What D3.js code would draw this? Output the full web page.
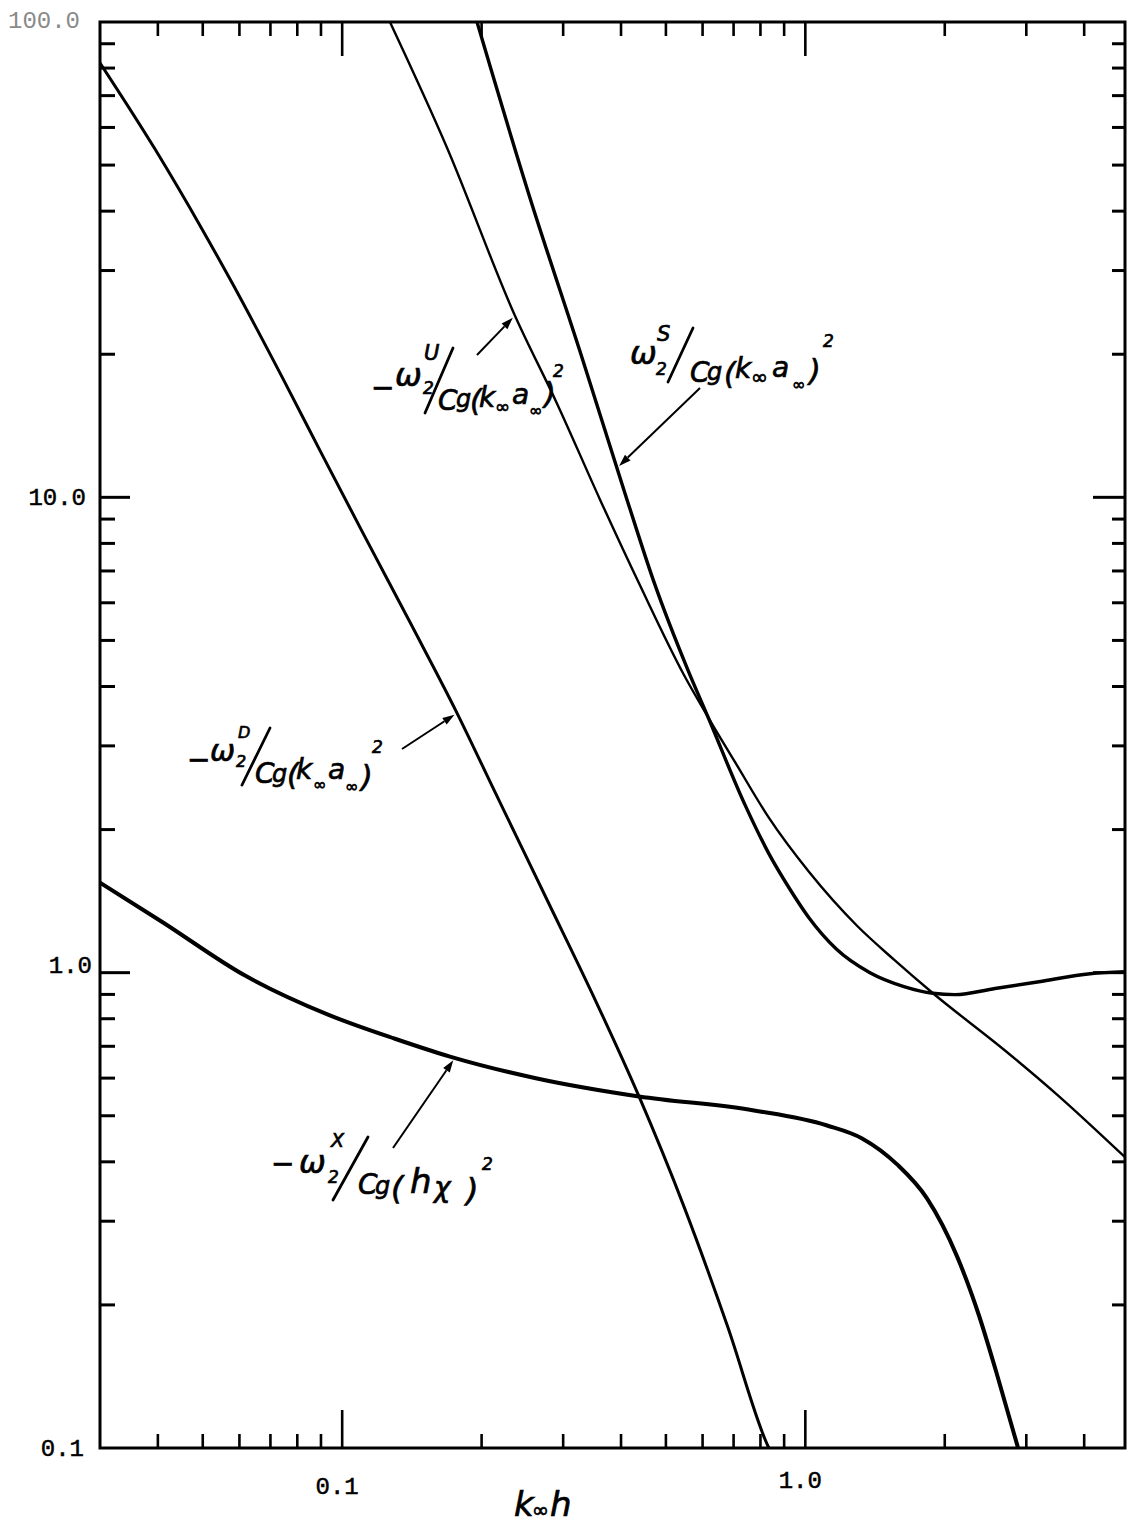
<!DOCTYPE html>
<html>
<head>
<meta charset="utf-8">
<script src="https://cdn.jsdelivr.net/npm/d3@7"></script>
<style>
  body { margin: 0; background: #ffffff; }
  svg { display: block; }
</style>
</head>
<body>
<svg id="chart" width="1130" height="1526"></svg>
<script>
// ---------------- DATA ----------------
const xMajorTicks = [0.1, 1];
const xTickLabels = ["0.1", "1.0"];
const xMinorTicks = [0.04, 0.05, 0.06, 0.07, 0.08, 0.09, 0.2, 0.3, 0.4, 0.5, 0.6, 0.7, 0.8, 0.9, 2, 3, 4];
const yMajorTicks = [0.1, 1, 10, 100];
const yTickLabels = ["0.1", "1.0", "10.0", "100.0"];
const yMinorTicks = [0.2, 0.3, 0.4, 0.5, 0.6, 0.7, 0.8, 0.9, 2, 3, 4, 5, 6, 7, 8, 9, 20, 30, 40, 50, 60, 70, 80, 90];

// -omega2^D / Cg (k a)^2
const curveD_x = [0.03, 0.0394, 0.0498, 0.0578, 0.0742, 0.0905, 0.1104, 0.1415, 0.177, 0.2137, 0.2782, 0.3515, 0.4374, 0.547, 0.681, 0.8264, 0.834];
const curveD_y = [82.0, 54.1, 36.7, 28.3, 17.9, 12.3, 8.48, 5.36, 3.517, 2.40, 1.410, 0.878, 0.549, 0.322, 0.179, 0.102, 0.1];

// -omega2^U / Cg (k a)^2
const curveU_x = [0.1268, 0.1684, 0.2361, 0.2909, 0.3602, 0.4395, 0.547, 0.6164, 0.7047, 0.8347, 1.018, 1.293, 1.554, 1.886, 2.698, 3.495, 4.9];
const curveU_y = [100, 54.4, 24.1, 15.76, 9.90, 6.53, 4.23, 3.45, 2.776, 2.116, 1.630, 1.255, 1.065, 0.905, 0.686, 0.554, 0.409];

// omega2^S / Cg (k a)^2
const curveS_x = [0.1955, 0.2543, 0.3263, 0.4119, 0.4713, 0.5579, 0.6164, 0.7409, 0.8347, 0.922, 1.018, 1.165, 1.379, 1.633, 1.886, 2.104, 2.568, 3.195, 4.117, 4.9];
const curveS_y = [100, 42.7, 20.26, 9.90, 6.63, 4.33, 3.45, 2.254, 1.778, 1.509, 1.305, 1.123, 1.0, 0.935, 0.905, 0.899, 0.926, 0.957, 0.995, 1.005];

// -omega2^X / Cg (h chi)^2
const curveX_x = [0.03, 0.0408, 0.0617, 0.0932, 0.130, 0.1709, 0.2634, 0.4374, 0.7748, 1.114, 1.326, 1.578, 1.831, 2.126, 2.371, 2.581, 2.88];
const curveX_y = [1.546, 1.280, 0.986, 0.816, 0.726, 0.666, 0.599, 0.549, 0.513, 0.477, 0.448, 0.395, 0.335, 0.253, 0.190, 0.145, 0.1];

// ---------------- SCALES ----------------
const L = 100, R = 1125, T = 22, B = 1448;
const xScale = d3.scaleLog().domain([0.03, 4.9]).range([L, R]);
const yScale = d3.scaleLog().domain([0.1, 100]).range([B, T]);

const svg = d3.select("#chart");
svg.append("rect").attr("width", 1130).attr("height", 1526).attr("fill", "#fff");

svg.append("defs").append("clipPath").attr("id", "plotclip")
  .append("rect").attr("x", L).attr("y", T).attr("width", R - L).attr("height", B - T);

// ---------------- CURVES ----------------
const zip = (xs, ys) => xs.map((x, i) => [x, ys[i]]);
const series = [
  { key: "D", pts: zip(curveD_x, curveD_y), w: 3.0 },
  { key: "U", pts: zip(curveU_x, curveU_y), w: 2.4 },
  { key: "S", pts: zip(curveS_x, curveS_y), w: 3.4 },
  { key: "X", pts: zip(curveX_x, curveX_y), w: 4.0 }
];
const line = d3.line()
  .x(d => xScale(d[0]))
  .y(d => yScale(d[1]))
  .curve(d3.curveMonotoneX);

svg.append("g").attr("clip-path", "url(#plotclip)")
  .selectAll("path").data(series).join("path")
  .attr("d", d => line(d.pts))
  .attr("fill", "none")
  .attr("stroke", "#000")
  .attr("stroke-width", d => d.w)
  .attr("stroke-linejoin", "round")
  .attr("stroke-linecap", "round");

// ---------------- FRAME & TICKS ----------------
const axes = svg.append("g").attr("stroke", "#000").attr("stroke-linecap", "butt");
axes.append("rect").attr("x", L).attr("y", T).attr("width", R - L).attr("height", B - T)
  .attr("fill", "none").attr("stroke-width", 3);

function xTicks(vals, len, w) {
  axes.selectAll(null).data(vals).join("line")
    .attr("x1", d => xScale(d)).attr("x2", d => xScale(d))
    .attr("y1", B).attr("y2", B - len.b).attr("stroke-width", w);
  axes.selectAll(null).data(vals).join("line")
    .attr("x1", d => xScale(d)).attr("x2", d => xScale(d))
    .attr("y1", T).attr("y2", T + len.t).attr("stroke-width", w);
}
function yTicks(vals, len, w) {
  axes.selectAll(null).data(vals).join("line")
    .attr("y1", d => yScale(d)).attr("y2", d => yScale(d))
    .attr("x1", L).attr("x2", L + len.l).attr("stroke-width", w);
  axes.selectAll(null).data(vals).join("line")
    .attr("y1", d => yScale(d)).attr("y2", d => yScale(d))
    .attr("x1", R).attr("x2", R - len.r).attr("stroke-width", w);
}
xTicks(xMinorTicks, { b: 14, t: 14 }, 2.6);
xTicks(xMajorTicks, { b: 38, t: 34 }, 2.6);
yTicks(yMinorTicks, { l: 15, r: 13 }, 3);
yTicks(yMajorTicks.filter(v => v > 0.1 && v < 100), { l: 30, r: 32 }, 3);

// tick labels
const tickFont = "'Liberation Mono', 'DejaVu Sans Mono', monospace";
svg.append("g").selectAll("text").data(yMajorTicks).join("text")
  .attr("x", (d, i) => [84, 92, 86, 80][i])
  .attr("y", (d, i) => yScale(d) + [8, 0, 8, 6][i])
  .attr("text-anchor", "end")
  .attr("font-family", tickFont)
  .attr("font-size", 24)
  .attr("fill", (d, i) => i === 3 ? "#8a8a8a" : "#000")
  .attr("stroke", (d, i) => i === 3 ? "none" : "#000")
  .attr("stroke-width", 0.5)
  .text((d, i) => yTickLabels[i]);

svg.append("g").selectAll("text").data(xMajorTicks).join("text")
  .attr("x", d => xScale(d) - 5)
  .attr("y", (d, i) => [1494, 1488][i])
  .attr("text-anchor", "middle")
  .attr("font-family", tickFont)
  .attr("font-size", 24)
  .attr("fill", "#000")
  .attr("stroke", "#000")
  .attr("stroke-width", 0.5)
  .text((d, i) => xTickLabels[i]);

// ---------------- HANDWRITTEN-STYLE LABELS ----------------
const hand = "'DejaVu Sans', 'Noto Sans', sans-serif";
function drawLabel(pieces, slash) {
  const g = svg.append("g");
  const t = g.append("text")
    .attr("font-family", hand)
    .attr("font-style", "italic")
    .attr("fill", "#000")
    .attr("stroke", "#000")
    .attr("stroke-width", 0.7);
  pieces.forEach(p => {
    t.append("tspan").attr("x", p.x).attr("y", p.y).attr("font-size", p.s).text(p.t);
  });
  if (slash) {
    g.append("line")
      .attr("x1", slash[0]).attr("y1", slash[1]).attr("x2", slash[2]).attr("y2", slash[3])
      .attr("stroke", "#000").attr("stroke-width", 2.8).attr("stroke-linecap", "round");
  }
}

// -ω2U / Cg(k∞a∞)²
drawLabel([
  { t: "\u2212", x: 371, y: 397, s: 28 },
  { t: "\u03C9", x: 395, y: 386, s: 32 },
  { t: "2", x: 423, y: 394, s: 17 },
  { t: "U", x: 424, y: 360, s: 21 },
  { t: "C", x: 438, y: 410, s: 28 },
  { t: "g", x: 456, y: 407, s: 24 },
  { t: "(", x: 470, y: 411, s: 30 },
  { t: "k", x: 479, y: 407, s: 28 },
  { t: "\u221E", x: 495, y: 413, s: 18 },
  { t: "a", x: 512, y: 404, s: 28 },
  { t: "\u221E", x: 529, y: 416, s: 16 },
  { t: ")", x: 544, y: 404, s: 30 },
  { t: "2", x: 553, y: 377, s: 17 }
], [453, 348, 425, 413]);

// ω2S / Cg(k∞a∞)²
drawLabel([
  { t: "\u03C9", x: 630, y: 364, s: 32 },
  { t: "2", x: 656, y: 375, s: 17 },
  { t: "S", x: 657, y: 341, s: 21 },
  { t: "C", x: 690, y: 382, s: 28 },
  { t: "g", x: 707, y: 380, s: 24 },
  { t: "(", x: 724, y: 384, s: 30 },
  { t: "k", x: 735, y: 378, s: 28 },
  { t: "\u221E", x: 751, y: 384, s: 20 },
  { t: "a", x: 772, y: 377, s: 28 },
  { t: "\u221E", x: 792, y: 390, s: 16 },
  { t: ")", x: 809, y: 381, s: 30 },
  { t: "2", x: 823, y: 347, s: 17 }
], [693, 328, 668, 382]);

// -ω2D / Cg(k∞a∞)²
drawLabel([
  { t: "\u2212", x: 187, y: 769, s: 28 },
  { t: "\u03C9", x: 210, y: 761, s: 30 },
  { t: "2", x: 236, y: 767, s: 16 },
  { t: "D", x: 238, y: 738, s: 16 },
  { t: "C", x: 255, y: 783, s: 28 },
  { t: "g", x: 272, y: 782, s: 24 },
  { t: "(", x: 287, y: 785, s: 30 },
  { t: "k", x: 296, y: 779, s: 28 },
  { t: "\u221E", x: 313, y: 790, s: 16 },
  { t: "a", x: 328, y: 779, s: 28 },
  { t: "\u221E", x: 345, y: 792, s: 16 },
  { t: ")", x: 361, y: 787, s: 30 },
  { t: "2", x: 372, y: 753, s: 17 }
], [270, 728, 242, 785]);

// -ω2X / Cg(hχ)²
drawLabel([
  { t: "\u2212", x: 271, y: 1173, s: 28 },
  { t: "\u03C9", x: 299, y: 1173, s: 32 },
  { t: "2", x: 328, y: 1183, s: 17 },
  { t: "X", x: 331, y: 1147, s: 19 },
  { t: "C", x: 358, y: 1194, s: 28 },
  { t: "g", x: 375, y: 1194, s: 24 },
  { t: "(", x: 391, y: 1199, s: 32 },
  { t: "h", x: 410, y: 1193, s: 34 },
  { t: "\u03C7", x: 434, y: 1197, s: 28 },
  { t: ")", x: 466, y: 1201, s: 32 },
  { t: "2", x: 482, y: 1170, s: 17 }
], [368, 1137, 333, 1200]);

// x-axis title k∞h
drawLabel([
  { t: "k", x: 514, y: 1516, s: 34 },
  { t: "\u221E", x: 532, y: 1517, s: 20 },
  { t: "h", x: 550, y: 1516, s: 34 }
], null);

// ---------------- ARROWS (tips on the curves) ----------------
function curveYAt(xs, ys, x) {
  const lx = Math.log10(x);
  for (let i = 0; i < xs.length - 1; i++) {
    const a = Math.log10(xs[i]), b = Math.log10(xs[i + 1]);
    if (lx >= a && lx <= b) {
      const t = (lx - a) / (b - a);
      return Math.pow(10, Math.log10(ys[i]) + t * (Math.log10(ys[i + 1]) - Math.log10(ys[i])));
    }
  }
  return ys[ys.length - 1];
}
const arrows = [
  { xs: curveU_x, ys: curveU_y, at: 0.236, tail: [477, 355] },
  { xs: curveS_x, ys: curveS_y, at: 0.392, tail: [700, 388] },
  { xs: curveD_x, ys: curveD_y, at: 0.177, tail: [402, 749] },
  { xs: curveX_x, ys: curveX_y, at: 0.1752, tail: [393, 1148] }
];
const ag = svg.append("g");
arrows.forEach(a => {
  const tx = xScale(a.at), ty = yScale(curveYAt(a.xs, a.ys, a.at));
  const dx = tx - a.tail[0], dy = ty - a.tail[1];
  const len = Math.hypot(dx, dy), ux = dx / len, uy = dy / len;
  const hx = tx - ux * 3, hy = ty - uy * 3;
  const bx = hx - ux * 12, by = hy - uy * 12;
  ag.append("line").attr("x1", a.tail[0]).attr("y1", a.tail[1]).attr("x2", bx).attr("y2", by)
    .attr("stroke", "#000").attr("stroke-width", 2);
  ag.append("path")
    .attr("d", `M${hx},${hy} L${bx - uy * 4},${by + ux * 4} L${bx + uy * 4},${by - ux * 4} Z`)
    .attr("fill", "#000");
});
</script>
</body>
</html>
